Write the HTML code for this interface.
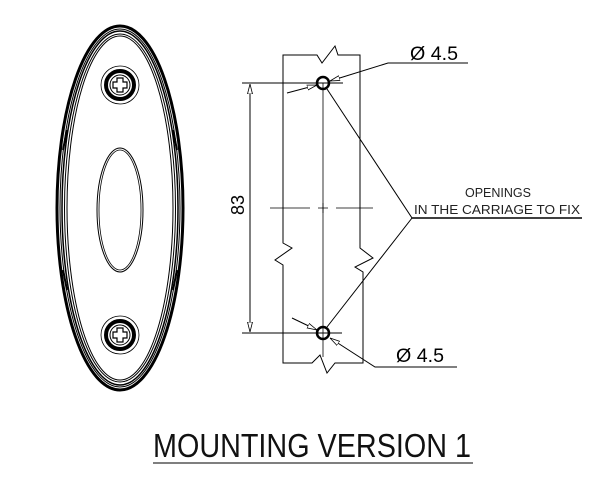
<!DOCTYPE html>
<html><head><style>html,body{margin:0;padding:0;background:#fff}svg{display:block}</style></head>
<body>
<svg width="603" height="503" viewBox="0 0 603 503" xmlns="http://www.w3.org/2000/svg" font-family="Liberation Sans, sans-serif">
<defs>
<marker id="ar" markerWidth="10" markerHeight="6" refX="10" refY="3" orient="auto" markerUnits="userSpaceOnUse"><path d="M0,0.5 L10,3 L0,5.5 Z" fill="#fff" stroke="#000" stroke-width="0.8"/></marker>
</defs>
<g fill="none" stroke="#000">
<ellipse cx="120" cy="208" rx="63" ry="182" stroke-width="3"/>
<ellipse cx="120" cy="208" rx="60" ry="179" stroke-width="1"/>
<ellipse cx="120" cy="208" rx="58" ry="177" stroke-width="1.5"/>
<ellipse cx="120" cy="208" rx="55.5" ry="174" stroke-width="1"/>
<ellipse cx="120" cy="208" rx="53" ry="172" stroke-width="1"/>
<ellipse cx="120" cy="210" rx="23" ry="62" stroke-width="1"/>
<ellipse cx="120" cy="210" rx="21" ry="60" stroke-width="0.8"/>
<circle cx="120" cy="85" r="19" stroke-width="0.8"/>
<circle cx="120" cy="85" r="14" stroke-width="4"/>
<circle cx="120" cy="85" r="10" stroke-width="1"/>
<circle cx="120" cy="335" r="19" stroke-width="0.8"/>
<circle cx="120" cy="335" r="14" stroke-width="4"/>
<circle cx="120" cy="335" r="10" stroke-width="1"/>
<path d="M117,78 h6 v4 h4 v6 h-4 v4 h-6 v-4 h-4 v-6 h4 Z" stroke-width="1.2"/>
<path d="M117,328 h6 v4 h4 v6 h-4 v4 h-6 v-4 h-4 v-6 h4 Z" stroke-width="1.2"/>
<path d="M63,150 L67,130 M177,150 L173,130 M63,270 L67,290 M177,270 L173,290" stroke-width="2"/>
</g>
<g fill="none" stroke="#000" stroke-width="1">
<path d="M283,243 L283,55 L317,55 L322,63 L335,46 L338,55 L360,55 L360,248 L373,258 L355,267 L363,272 L363,363 L335,363 L327,373 L320,355 L312,363 L283,363 L283,265 L275,260 L292,248 Z"/>
<line x1="323" y1="83" x2="323" y2="357" stroke-width="0.8"/>
<path d="M270,208 H310 M318,208 H328 M336,208 H373" stroke-width="0.8"/>
<line x1="323" y1="203" x2="323" y2="213" stroke-width="0.8"/>
<circle cx="323" cy="83" r="6" stroke-width="2.5"/>
<circle cx="323" cy="333" r="6" stroke-width="2.5"/>
<line x1="242" y1="83" x2="343" y2="83"/>
<line x1="242" y1="333" x2="342" y2="333"/>
<line x1="250" y1="95" x2="250" y2="321"/>
<line x1="250" y1="95" x2="250" y2="84" marker-end="url(#ar)"/>
<line x1="250" y1="321" x2="250" y2="332" marker-end="url(#ar)"/>
<polyline points="468,63 388,63 330,81" marker-end="url(#ar)"/>
<line x1="287" y1="93" x2="317" y2="85" marker-end="url(#ar)"/>
<polyline points="457,367 375,367 330,338" marker-end="url(#ar)"/>
<line x1="292" y1="318" x2="317" y2="330" marker-end="url(#ar)"/>
<polyline points="327,89 412,218 327,327"/>
<line x1="412" y1="218" x2="582" y2="218" stroke-width="1.5"/>
<line x1="153" y1="463" x2="473" y2="463" stroke="#555" stroke-width="1.5"/>
</g>
<text x="239" y="205" font-size="18" text-anchor="middle" transform="rotate(-90 239 205)" dominant-baseline="middle">83</text>
<text x="410" y="60" font-size="19" textLength="48" lengthAdjust="spacingAndGlyphs">Ø 4.5</text>
<text x="396" y="362" font-size="19" textLength="48" lengthAdjust="spacingAndGlyphs">Ø 4.5</text>
<text x="498" y="197" font-size="12.5" text-anchor="middle" fill="#222">OPENINGS</text>
<text x="497" y="214" font-size="12.5" text-anchor="middle" fill="#222" textLength="166" lengthAdjust="spacingAndGlyphs">IN THE CARRIAGE TO FIX</text>
<text x="153" y="457" font-size="33" textLength="318" lengthAdjust="spacingAndGlyphs" fill="#111">MOUNTING VERSION 1</text>
</svg>
</body></html>
